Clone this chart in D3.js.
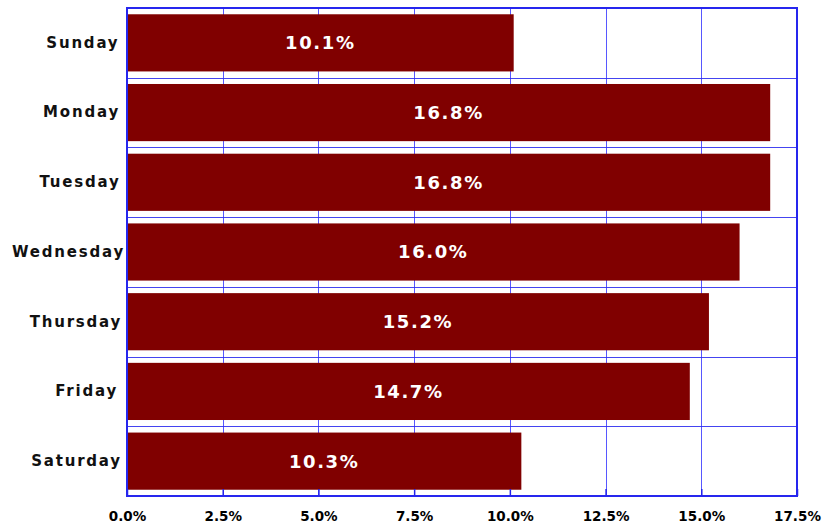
<!DOCTYPE html>
<html>
<head>
<meta charset="utf-8">
<script src="https://cdn.jsdelivr.net/npm/d3@7"></script>
<style>
  body { margin: 0; background: #fff; }
  text { font-family: "DejaVu Sans", Verdana, sans-serif; font-weight: bold; }
</style>
</head>
<body>
<script>
var days = ["Sunday", "Monday", "Tuesday", "Wednesday", "Thursday", "Friday", "Saturday"];
var shares = [10.1, 16.8, 16.8, 16.0, 15.2, 14.7, 10.3];
var xTicks = [0, 2.5, 5, 7.5, 10, 12.5, 15, 17.5];

var svgWidth = 829;
var svgHeight = 525;

var chartMargin = {
    top: 8,
    right: 32,
    bottom: 29,
    left: 127
};

var chartWidth = svgWidth - chartMargin.left - chartMargin.right;
var chartHeight = svgHeight - chartMargin.top - chartMargin.bottom;

var data = days.map((d, i) => ({ day: d, value: shares[i] }));

var svg = d3.select("body")
    .append("svg")
    .attr("width", svgWidth)
    .attr("height", svgHeight);

var chartGroup = svg.append("g")
    .attr("transform", `translate(${chartMargin.left}, ${chartMargin.top})`);

var xScale = d3.scaleLinear()
    .domain([0, 17.5])
    .range([0, chartWidth]);

var yBandScale = d3.scaleBand()
    .domain(days)
    .range([0, chartHeight])
    .paddingInner(0.18)
    .paddingOuter(0.09);

// vertical grid lines
chartGroup.selectAll(".vgrid")
    .data(xTicks.slice(1, -1))
    .enter()
    .append("line")
    .attr("class", "vgrid")
    .attr("x1", d => Math.round(xScale(d)) + 0.5)
    .attr("x2", d => Math.round(xScale(d)) + 0.5)
    .attr("y1", 0)
    .attr("y2", chartHeight)
    .attr("stroke", "#3a3aff")
    .attr("stroke-opacity", 0.85)
    .attr("stroke-width", 1);

// bars
chartGroup.selectAll(".bar")
    .data(data)
    .enter()
    .append("rect")
    .attr("class", "bar")
    .attr("x", 0)
    .attr("y", d => yBandScale(d.day))
    .attr("width", d => xScale(d.value))
    .attr("height", yBandScale.bandwidth())
    .attr("fill", "#800000");

// separators between categories
var step = yBandScale.step();
chartGroup.selectAll(".sep")
    .data(days.slice(0, -1))
    .enter()
    .append("line")
    .attr("class", "sep")
    .attr("x1", 0)
    .attr("x2", chartWidth)
    .attr("y1", d => Math.round(yBandScale(d) + yBandScale.bandwidth() + step * 0.09) + 0.5)
    .attr("y2", d => Math.round(yBandScale(d) + yBandScale.bandwidth() + step * 0.09) + 0.5)
    .attr("stroke", "#3030ee")
    .attr("stroke-opacity", 0.9)
    .attr("stroke-width", 1);

// value labels
chartGroup.selectAll(".val")
    .data(data)
    .enter()
    .append("text")
    .attr("class", "val")
    .attr("x", d => xScale(d.value) / 2)
    .attr("y", d => yBandScale(d.day) + yBandScale.bandwidth() / 2)
    .attr("dy", "0.36em")
    .attr("text-anchor", "middle")
    .attr("fill", "#fff")
    .style("font-size", "18px")
    .style("letter-spacing", "1.6px")
    .text(d => d.value.toFixed(1) + "%");

// bottom axis
var bottomAxis = d3.axisBottom(xScale)
    .tickValues(xTicks)
    .tickSize(-7)
    .tickPadding(15)
    .tickFormat(d => d.toFixed(1) + "%");

var xAxisG = chartGroup.append("g")
    .attr("transform", `translate(0, ${chartHeight})`)
    .call(bottomAxis);
xAxisG.select(".domain").remove();
xAxisG.selectAll(".tick line").attr("stroke", "#2222ee").attr("stroke-width", 1.5);
xAxisG.selectAll("text")
    .attr("fill", "#000")
    .style("font-size", "13.5px")
    .style("font-family", "'DejaVu Sans', Verdana, sans-serif")
    .style("font-weight", "bold");

// left axis labels
var leftAxis = d3.axisLeft(yBandScale).tickSize(0).tickPadding(6);
var yAxisG = chartGroup.append("g").call(leftAxis);
yAxisG.select(".domain").remove();
yAxisG.selectAll("text")
    .attr("fill", "#111")
    .style("font-size", "15px")
    .style("letter-spacing", "1.8px")
    .style("font-family", "'DejaVu Sans', Verdana, sans-serif")
    .style("font-weight", "bold")
    .attr("text-anchor", "start")
    .attr("x", function () {
        var w = this.getComputedTextLength();
        // longer labels sit a little further right, as in the original
        return -8 - w + 0.14 * (w - 70);
    });

// frame
chartGroup.append("rect")
    .attr("x", 0)
    .attr("y", 0)
    .attr("width", chartWidth)
    .attr("height", chartHeight)
    .attr("fill", "none")
    .attr("stroke", "#2626ee")
    .attr("stroke-width", 2);
</script>
</body>
</html>
